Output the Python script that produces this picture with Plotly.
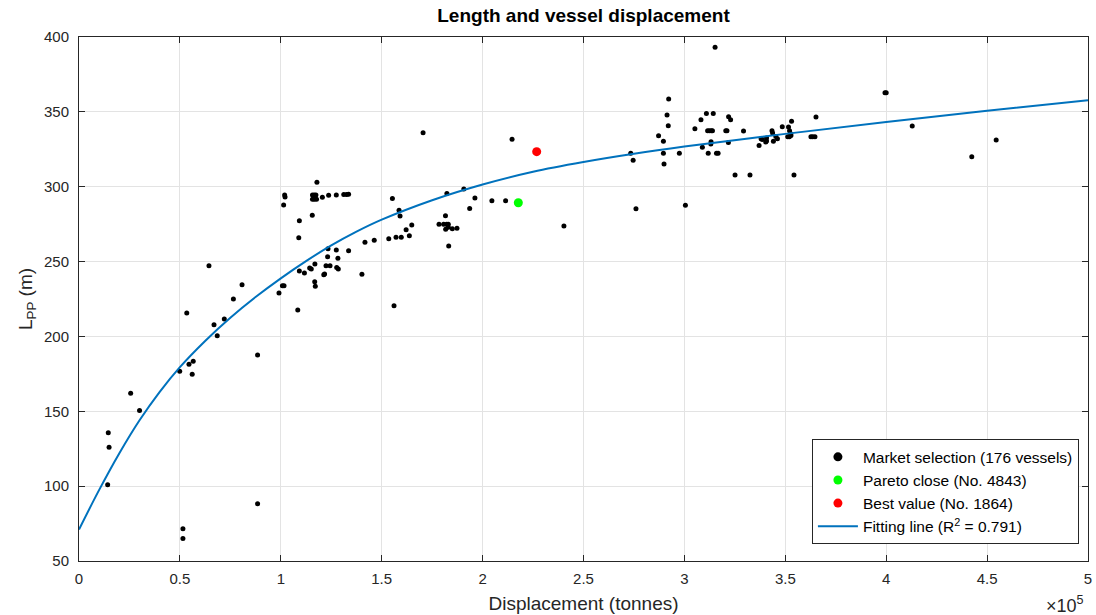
import plotly.graph_objects as go

# Displacement in units of 1e5 tonnes, L_PP in m
market_disp = [
    0.142, 0.145, 0.149, 0.256, 0.300, 0.499, 0.515, 0.515, 0.534, 0.545,
    0.566, 0.561, 0.644, 0.669, 0.685, 0.720, 0.765, 0.808, 0.885, 0.885,
    0.991, 1.008, 1.016, 1.014, 1.019, 1.021, 1.084, 1.089, 1.092, 1.092,
    1.117, 1.143, 1.151, 1.156, 1.157, 1.166, 1.174, 1.157, 1.166, 1.177,
    1.179, 1.169, 1.168, 1.171, 1.206, 1.213, 1.217, 1.224, 1.244, 1.232,
    1.234, 1.237, 1.275, 1.275, 1.277, 1.285, 1.283, 1.312, 1.326, 1.336,
    1.336, 1.402, 1.417, 1.463, 1.535, 1.553, 1.561, 1.571, 1.597, 1.586,
    1.591, 1.621, 1.637, 1.649, 1.705, 1.784, 1.807, 1.822, 1.830, 1.816,
    1.823, 1.817, 1.830, 1.850, 1.873, 1.832, 1.907, 1.936, 1.962, 2.046,
    2.114, 2.146, 2.403, 2.734, 2.746, 2.760, 2.872, 2.896, 2.896, 2.899,
    2.914, 2.920, 2.922, 2.975, 3.005, 3.052, 3.082, 3.089, 3.109, 3.143,
    3.115, 3.124, 3.133, 3.139, 3.132, 3.131, 3.118, 3.152, 3.159, 3.167,
    3.205, 3.211, 3.219, 3.229, 3.218, 3.251, 3.293, 3.325, 3.370, 3.380,
    3.386, 3.407, 3.407, 3.403, 3.434, 3.437, 3.441, 3.453, 3.461, 3.485,
    3.512, 3.520, 3.528, 3.516, 3.521, 3.527, 3.531, 3.543, 3.627, 3.636,
    3.647, 3.652, 3.994, 4.000, 4.129, 4.424, 4.545,
]
market_lpp = [
    100.9, 135.7, 126.0, 162.0, 150.6, 176.7, 71.6, 65.1, 215.6, 181.5,
    183.4, 174.7, 247.2, 207.8, 200.5, 211.6, 225.0, 234.5, 187.6, 88.2,
    229.0, 233.9, 233.9, 287.8, 294.5, 293.2, 217.6, 265.9, 277.3, 243.7,
    242.3, 245.7, 245.0, 281.0, 294.5, 294.5, 294.5, 291.6, 291.6, 291.6,
    302.9, 248.4, 236.5, 233.5, 292.9, 241.2, 241.7, 247.2, 247.2, 253.3,
    258.6, 294.3, 294.5, 257.7, 246.1, 245.0, 252.2, 294.8, 294.8, 295.0,
    257.2, 241.5, 262.9, 264.2, 265.3, 292.2, 220.5, 266.3, 266.3, 284.3,
    280.4, 271.3, 267.3, 274.4, 336.0, 274.9, 274.9, 274.9, 274.9, 280.6,
    295.5, 271.6, 273.0, 271.9, 272.3, 260.4, 298.5, 285.5, 292.5, 290.7,
    290.7, 331.7, 273.7, 322.4, 317.6, 285.3, 334.1, 330.4, 322.3, 315.2,
    347.9, 340.8, 358.6, 322.3, 287.7, 338.8, 344.8, 326.3, 348.9, 348.9,
    337.3, 337.3, 337.3, 337.3, 330.0, 328.5, 322.3, 393.1, 322.3, 322.3,
    337.4, 337.4, 346.7, 344.7, 329.6, 307.8, 337.2, 307.8, 327.6, 332.1,
    331.6, 332.5, 330.5, 329.9, 337.3, 335.9, 330.4, 333.5, 332.1, 340.0,
    333.3, 333.4, 334.2, 339.9, 337.3, 335.4, 343.8, 307.8, 333.3, 333.3,
    333.3, 346.5, 362.8, 362.8, 340.5, 320.0, 331.2,
]

pareto_disp = [2.177]
pareto_lpp = [289.3]
best_disp = [2.268]
best_lpp = [323.4]

# Fitting line
fit_disp = [0.0, 0.1, 0.2, 0.3, 0.4, 0.5, 0.625, 0.75, 0.875, 1.0, 1.125,
            1.25, 1.375, 1.5, 1.75, 2.0, 2.25, 2.5, 2.75, 3.0, 3.5, 4.0,
            4.5, 5.0]
fit_lpp = [71.0, 97.5, 122.0, 144.0, 163.0, 179.5, 197.0, 212.5, 226.3, 238.8,
           250.3, 260.8, 270.0, 278.0, 291.0, 301.5, 310.0, 316.5, 322.0,
           326.8, 335.3, 343.3, 350.8, 357.8]

x_ticks = [0, 0.5, 1, 1.5, 2, 2.5, 3, 3.5, 4, 4.5, 5]
x_ticklabels = ["0", "0.5", "1", "1.5", "2", "2.5", "3", "3.5", "4", "4.5", "5"]
y_ticks = [50, 100, 150, 200, 250, 300, 350, 400]

FONT = "Liberation Sans, Arial, sans-serif"
AX = "#262626"

names = ["Market selection (176 vessels)", "Pareto close (No. 4843)",
         "Best value (No. 1864)", "Fitting line (R<sup>2</sup> = 0.791)"]

fig = go.Figure()
fig.add_trace(go.Scatter(
    x=market_disp, y=market_lpp, mode="markers",
    marker=dict(color="black", size=5), showlegend=False,
    legendgroup="m", name=names[0]))
fig.add_trace(go.Scatter(
    x=pareto_disp, y=pareto_lpp, mode="markers",
    marker=dict(color="#00ff00", size=9), showlegend=False,
    legendgroup="p", name=names[1]))
fig.add_trace(go.Scatter(
    x=best_disp, y=best_lpp, mode="markers",
    marker=dict(color="#ff0000", size=9), showlegend=False,
    legendgroup="b", name=names[2]))
fig.add_trace(go.Scatter(
    x=fit_disp, y=fit_lpp, mode="lines",
    line=dict(color="#0072BD", width=2, shape="spline", smoothing=1.0),
    showlegend=False, legendgroup="f", name=names[3]))

# legend entries (larger marker glyphs as in the reference legend)
fig.add_trace(go.Scatter(x=[None], y=[None], mode="markers",
                         marker=dict(color="black", size=9),
                         legendgroup="m", name=names[0]))
fig.add_trace(go.Scatter(x=[None], y=[None], mode="markers",
                         marker=dict(color="#00ff00", size=9),
                         legendgroup="p", name=names[1]))
fig.add_trace(go.Scatter(x=[None], y=[None], mode="markers",
                         marker=dict(color="#ff0000", size=9),
                         legendgroup="b", name=names[2]))
fig.add_trace(go.Scatter(x=[None], y=[None], mode="lines",
                         line=dict(color="#0072BD", width=2),
                         legendgroup="f", name=names[3]))

axis_common = dict(
    showgrid=True, gridcolor="#e3e3e3", gridwidth=1,
    showline=True, linecolor=AX, linewidth=1, mirror="ticks",
    ticks="inside", ticklen=6, tickcolor=AX,
    tickfont=dict(family=FONT, size=15, color=AX),
    zeroline=False, automargin=False, ticklabeloverflow="allow",
)

fig.update_layout(
    width=1096, height=615,
    margin=dict(l=79, r=8, t=37, b=54, autoexpand=False),
    paper_bgcolor="white", plot_bgcolor="white",
    title=dict(text="<b>Length and vessel displacement</b>",
               x=0.5, xref="paper", xanchor="center",
               y=1, yref="container", yanchor="top", pad=dict(t=9),
               font=dict(family=FONT, size=19, color="black"),
               automargin=False),
    xaxis=dict(range=[0, 5], tickvals=x_ticks, ticktext=x_ticklabels,
               ticklabelstandoff=4,
               title=dict(text="Displacement (tonnes)", standoff=10,
                          font=dict(family=FONT, size=19, color=AX)),
               **axis_common),
    yaxis=dict(range=[50, 400], tickvals=y_ticks, ticklabelstandoff=6,
               title=dict(text="L<sub>PP</sub> (m)", standoff=6,
                          font=dict(family=FONT, size=19, color=AX)),
               **axis_common),
    legend=dict(x=0.991, y=0.032, xanchor="right", yanchor="bottom",
                bgcolor="white", bordercolor=AX, borderwidth=1,
                font=dict(family=FONT, size=15.5, color="black"),
                itemwidth=40, tracegroupgap=0),
    showlegend=True,
    annotations=[dict(text="×10<sup>5</sup>", xref="paper", yref="paper",
                      x=1.0, y=0, xanchor="right", yanchor="top", yshift=-30,
                      xshift=-2, showarrow=False,
                      font=dict(family=FONT, size=18, color=AX))],
)

# remove the default 8px page margin so the 1096x615 figure fills the window
fig.write_html("out.html",
               config={"displayModeBar": False},
               post_script="document.body.style.margin='0';")
